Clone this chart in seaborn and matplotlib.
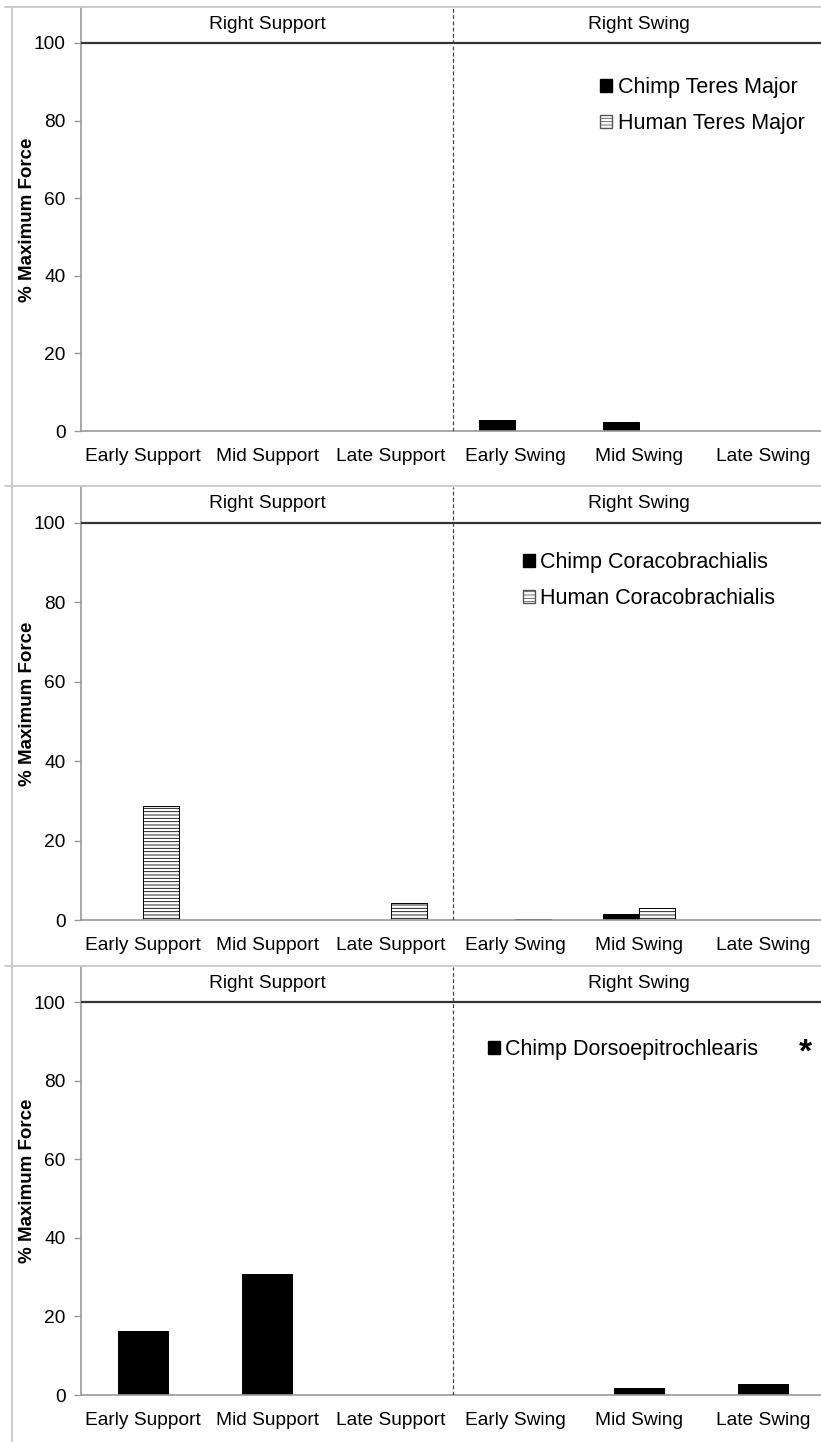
import matplotlib
matplotlib.use("Agg")
import matplotlib.pyplot as plt
from matplotlib.lines import Line2D
from matplotlib.patches import Patch
import seaborn as sns
import pandas as pd

sns.set_style("white")
plt.rcParams["font.family"] = ["Liberation Sans", "DejaVu Sans"]
plt.rcParams["hatch.linewidth"] = 0.6
plt.rcParams["text.color"] = "black"
plt.rcParams["axes.labelcolor"] = "black"
plt.rcParams["xtick.labelcolor"] = "black"
plt.rcParams["ytick.labelcolor"] = "black"

phases = ["Early Support", "Mid Support", "Late Support",
          "Early Swing", "Mid Swing", "Late Swing"]
halves = ["Right Support", "Right Swing"]
yticks = [0, 20, 40, 60, 80, 100]

# % maximum force per gait phase
chimp_teres = [0.0, 0.0, 0.0, 2.9, 2.2, 0.0]
human_teres = [0.0, 0.0, 0.0, 0.0, 0.0, 0.0]
chimp_coraco = [0.0, 0.0, 0.0, 0.0, 1.5, 0.0]
human_coraco = [28.6, 0.0, 4.4, 0.3, 2.9, 0.0]
chimp_dorso = [16.2, 30.8, 0.1, 0.0, 1.9, 2.7]

W, H, DPI = 821, 1442, 100
fig = plt.figure(figsize=(W / DPI, H / DPI), dpi=DPI)

GRID = "#c8c8c8"
AXIS = "#999999"
X_LEFT, X_RIGHT = 81, 825
FS = 13.8
LEG_FS = 15.5

# (top px, bottom px) of each plotting area
panels = [(8, 431), (487, 920), (967, 1395)]


def make_axes(top, bottom):
    return fig.add_axes([X_LEFT / W, 1 - bottom / H,
                         (X_RIGHT - X_LEFT) / W, (bottom - top) / H])


def style_axes(ax):
    ax.set_xlim(-0.5, 5.5)
    ax.set_ylim(0, 109)
    ax.set_yticks(yticks)
    ax.set_xticks(range(len(phases)))
    ax.set_xticklabels(phases)
    ax.set_xticks([i - 0.5 for i in range(len(phases) + 1)], minor=True)
    ax.tick_params(axis="x", which="major", length=0, pad=12, labelsize=FS)
    ax.tick_params(axis="x", which="minor", length=6, color=AXIS, width=1)
    ax.tick_params(axis="y", length=5, color=AXIS, width=1, pad=6,
                   labelsize=FS, left=True)
    for s in ["top", "right"]:
        ax.spines[s].set_visible(False)
    for s in ["left", "bottom"]:
        ax.spines[s].set_color(AXIS)
        ax.spines[s].set_linewidth(1.2)
    ax.set_xlabel("")
    ax.set_ylabel("% Maximum Force", fontweight="bold", fontsize=13.5,
                  labelpad=-1.5)
    ax.axhline(100, color="#333333", lw=1.6, zorder=3)
    ax.axvline(2.5, color="#444444", lw=0.9, ls=(0, (3, 2)), zorder=3)
    ax.text(1.0, 104.8, halves[0], ha="center", va="center", fontsize=FS)
    ax.text(4.0, 104.8, halves[1], ha="center", va="center", fontsize=FS)


def paired_panel(top, bottom, chimp, human, chimp_name, human_name, anchor):
    ax = make_axes(top, bottom)
    df = pd.DataFrame({
        "phase": phases * 2,
        "value": chimp + human,
        "series": [chimp_name] * len(phases) + [human_name] * len(phases),
    })
    sns.barplot(data=df, x="phase", y="value", hue="series",
                hue_order=[chimp_name, human_name],
                palette=["black", "white"], width=0.58, dodge=True,
                edgecolor="black", linewidth=0.7, errorbar=None,
                legend=False, ax=ax, saturation=1)
    for bar in ax.containers[1]:
        bar.set_hatch("-----")
    handles = [Patch(facecolor="black", edgecolor="black", label=chimp_name),
               Patch(facecolor="white", edgecolor="#555555", hatch="-----",
                     label=human_name)]
    ax.legend(handles=handles, loc="upper left", bbox_to_anchor=anchor,
              frameon=False, fontsize=LEG_FS, handlelength=0.55,
              handleheight=0.55, handletextpad=0.25, labelspacing=0.7,
              borderpad=0, borderaxespad=0)
    style_axes(ax)
    return ax


paired_panel(*panels[0], chimp_teres, human_teres,
             "Chimp Teres Major", "Human Teres Major", (0.698, 0.837))
paired_panel(*panels[1], chimp_coraco, human_coraco,
             "Chimp Coracobrachialis", "Human Coracobrachialis",
             (0.594, 0.85))

ax3 = make_axes(*panels[2])
df3 = pd.DataFrame({"phase": phases, "value": chimp_dorso})
sns.barplot(data=df3, x="phase", y="value", color="black", width=0.4,
            edgecolor="black", linewidth=0.7, errorbar=None, ax=ax3,
            saturation=1)
ax3.legend(handles=[Patch(facecolor="black", edgecolor="black",
                          label="Chimp Dorsoepitrochlearis")],
           loc="upper left", bbox_to_anchor=(0.547, 0.832), frameon=False,
           fontsize=LEG_FS, handlelength=0.55, handleheight=0.55,
           handletextpad=0.25, borderpad=0, borderaxespad=0)
ax3.text(5.34, 87, "*", ha="center", va="center", fontsize=24,
         fontweight="bold")
style_axes(ax3)

# light frames around the three panels
fx = 12 / W
fig.add_artist(Line2D([fx, fx], [0, 1 - 7 / H], color=GRID, lw=1.3))
for yp in [7, 486, 966]:
    fig.add_artist(Line2D([5 / W, 1], [1 - yp / H, 1 - yp / H],
                          color=GRID, lw=1.3))

fig.savefig("out.png", dpi=DPI)
